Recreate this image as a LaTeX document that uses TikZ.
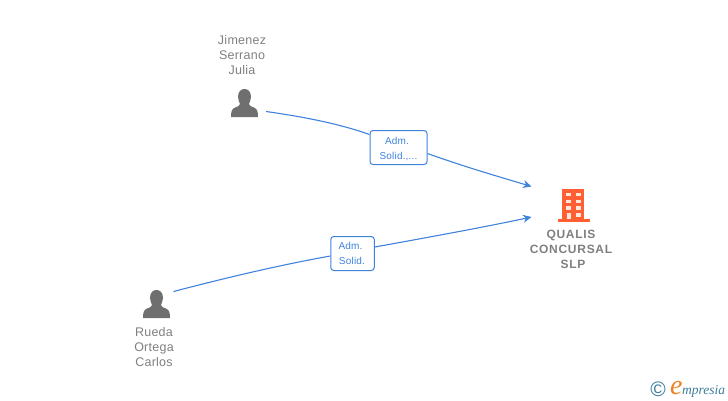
\documentclass[tikz,border=0pt]{standalone}
\usepackage{fontspec}
\setmainfont{Liberation Sans}[LetterSpace=2]
\newfontfamily\logofont{Liberation Serif}
\newfontfamily\wideboldfont{Liberation Sans}[LetterSpace=6]
\usetikzlibrary{arrows.meta}
\definecolor{txtgray}{HTML}{7F7F7F}
\definecolor{icongray}{HTML}{6F6F6F}
\definecolor{linkblue}{HTML}{3F83DC}
\definecolor{orangeb}{HTML}{FF5F33}
\definecolor{logoblue}{HTML}{3D7C9C}
\definecolor{logoorange}{HTML}{F08020}
\tikzset{
  x=1pt,y=-1pt,
  person/.style={align=center,text=txtgray,font=\fontsize{12.5}{15}\selectfont,inner sep=0pt},
  company/.style={align=center,text=txtgray,font=\wideboldfont\fontsize{12}{15}\selectfont\bfseries,inner sep=0pt},
  rolebox/.style={draw=linkblue,line width=1pt,rounded corners=3pt,fill=white,align=center,text=linkblue,
    font=\fontsize{10}{15.5}\selectfont,inner sep=0pt},
  link/.style={draw=linkblue,line width=1.1pt},
  linkend/.style={link,-{Stealth[length=8.5pt,width=8pt]}},
}
% #1,#2 = centre of the bottom edge of the icon
\newcommand{\personicon}[2]{%
  \fill[icongray] (#1-6.5,#2-20) .. controls (#1-6.5,#2-25.5) and (#1-3.5,#2-28) .. (#1,#2-28)
    .. controls (#1+3.5,#2-28) and (#1+6.5,#2-25.5) .. (#1+6.5,#2-20)
    .. controls (#1+6.5,#2-17) and (#1+5,#2-15) .. (#1+4.5,#2-13)
    .. controls (#1+4.5,#2-11) and (#1+7,#2-10.5) .. (#1+9.5,#2-9.5)
    .. controls (#1+13,#2-8) and (#1+13.5,#2-5) .. (#1+13.5,#2)
    -- (#1-13.5,#2)
    .. controls (#1-13.5,#2-5) and (#1-13,#2-8) .. (#1-9.5,#2-9.5)
    .. controls (#1-7,#2-10.5) and (#1-4.5,#2-11) .. (#1-4.5,#2-13)
    .. controls (#1-5,#2-15) and (#1-6.5,#2-17) .. (#1-6.5,#2-20) -- cycle;
}
\begin{document}
\begin{tikzpicture}
\useasboundingbox (0,0) rectangle (728,400);
% person icons
\personicon{244.5}{117}
\personicon{156.5}{318}
% building icon
\fill[orangeb] (562,188.5) rectangle (584,219);
\fill[orangeb] (557.5,219) rectangle (589.5,222);
\foreach \yy in {192.5,199.5,206}{
  \fill[white!85!orangeb] (566,\yy) rectangle (570.5,\yy+3.7);
  \fill[white!85!orangeb] (576,\yy) rectangle (580.5,\yy+3.7);
}
\fill[white!85!orangeb] (566.5,212.7) rectangle (570.5,219);
\fill[white!85!orangeb] (576,212.7) rectangle (580.5,216.5);
% nodes
\node[person] (jimenez) at (242,55) {Jimenez\\Serrano\\Julia};
\node[person] (rueda) at (154,347) {Rueda\\Ortega\\Carlos};
\node[company] (qualis) at (571,249) {QUALIS\\CONCURSAL\\\hspace{4pt}SLP};
\coordinate (jstart) at (266,111.5);
\coordinate (rstart) at (173.5,291.5);
\coordinate (tup) at (531.5,186.5);
\coordinate (tlow) at (531.5,217);
\node[rolebox,minimum width=57pt,minimum height=34pt,text depth=0pt] (role1) at (398.5,147.5) {\raisebox{-1.5pt}{Adm.\hspace{3pt}}\\[0pt]\raisebox{-1.5pt}{Solid.,...}};
\node[rolebox,minimum width=43.5pt,minimum height=34pt] (role2) at (352.5,253.5) {\raisebox{-1.5pt}{Adm.\hspace{4pt}}\\\raisebox{-1.5pt}{Solid.\hspace{1pt}}};
% connectors
\draw[link] (jstart) .. controls (305,117) and (340,124) .. (role1.west |- 0,134.5);
\draw[linkend] (role1.east |- 0,153.5) .. controls (465,167) and (500,177) .. (tup);
\draw[link] (rstart) .. controls (225,278) and (280,265) .. (role2.west |- 0,256);
\draw[linkend] (role2.east |- 0,247) .. controls (430,237) and (485,227) .. (tlow);
% logo
\node[inner sep=0pt,text=logoblue,font=\fontsize{21}{21}\selectfont] (copy) at (658,389) {\textcopyright};
\node[inner sep=0pt,anchor=base west,text=logoorange,font=\logofont\itshape\fontsize{28}{28}\selectfont] (eletter) at (670,394) {e};
\node[inner sep=0pt,anchor=base west,text=logoblue,font=\logofont\itshape\fontsize{13.5}{13.5}\selectfont] (brand) at (682,394) {mpresia};
\end{tikzpicture}
\end{document}
